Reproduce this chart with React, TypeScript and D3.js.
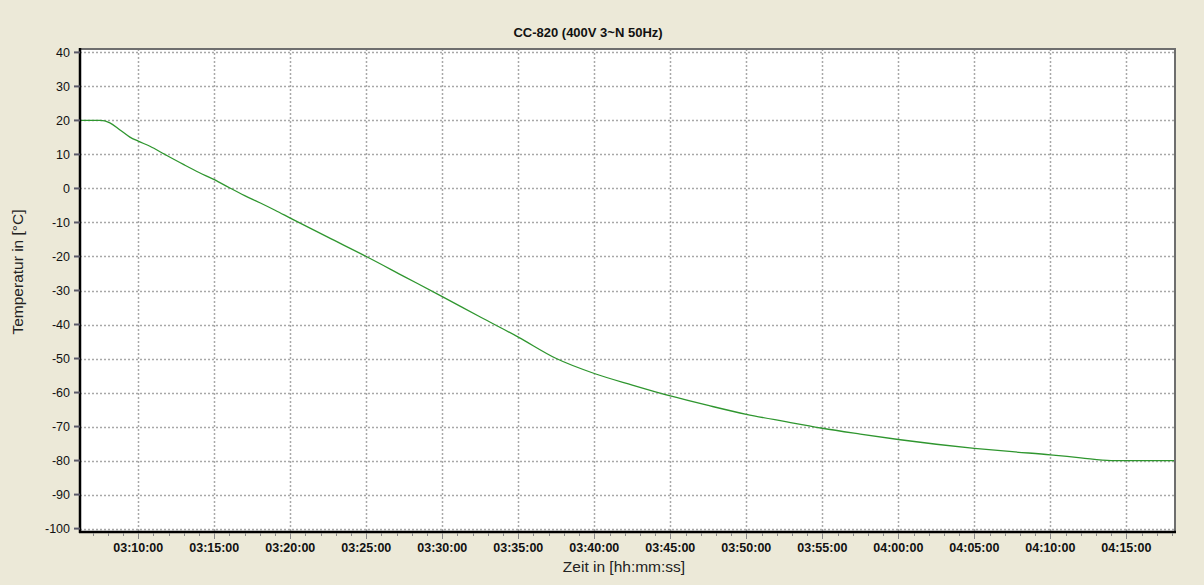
import { useEffect, useRef } from "react";
import * as d3 from "d3";

const chartTitle = "CC-820 (400V 3~N 50Hz)";
const xTitle = "Zeit in [hh:mm:ss]";
const yTitle = "Temperatur in [°C]";

// time stamps (hh:mm:ss) and temperature in °C
const times = [
	"03:06:14", "03:07:30", "03:08:08", "03:08:48", "03:09:27", "03:10:00",
	"03:10:46", "03:11:45", "03:13:00", "03:14:00", "03:15:00", "03:16:00",
	"03:17:00", "03:18:00", "03:19:00", "03:20:00", "03:22:30", "03:25:00",
	"03:27:30", "03:30:00", "03:32:30", "03:35:00", "03:37:30", "03:40:00",
	"03:42:30", "03:45:00", "03:47:30", "03:50:00", "03:52:30", "03:55:00",
	"03:57:30", "04:00:00", "04:02:30", "04:05:00", "04:07:30", "04:10:00",
	"04:12:00", "04:14:00", "04:18:12",
];
const temps = [
	20, 20, 19.3, 17.2, 15.1, 13.9,
	12.4, 10.0, 7.0, 4.7, 2.6, 0.2,
	-2.1, -4.2, -6.4, -8.7, -14.4, -20,
	-25.9, -31.8, -37.8, -43.7, -50, -54.4,
	-57.8, -61, -63.8, -66.4, -68.5, -70.5,
	-72.2, -73.8, -75.2, -76.4, -77.4, -78.3,
	-79.2, -80, -80,
];
const yTicks = [40, 30, 20, 10, 0, -10, -20, -30, -40, -50, -60, -70, -80, -90, -100];
const xStart = "03:06:14";
const xEnd = "04:18:12";

export default function App() {
	const svgRef = useRef<SVGSVGElement>(null);

	useEffect(() => {
		document.body.style.margin = "0";
		if (!svgRef.current) return;
		const svg = d3.select(svgRef.current);
		svg.selectAll("*").remove();

		const width = 1204;
		const height = 585;
		const box = { left: 80, right: 1175, top: 49, bottom: 532 };
		const font = "Arial, 'Liberation Sans', sans-serif";
		const parse = d3.timeParse("%H:%M:%S");
		const data = times.map((t, i) => ({ t: parse(t) as Date, v: temps[i] }));

		svg.attr("width", width).attr("height", height);
		svg.append("rect").attr("width", width).attr("height", height).attr("fill", "#ECE9D8");

		const x = d3
			.scaleTime()
			.domain([parse(xStart) as Date, parse(xEnd) as Date])
			.range([box.left + 1, box.right]);
		const y = d3.scaleLinear().domain([-101, 41]).range([box.bottom, box.top]);

		svg.append("rect")
			.attr("x", box.left)
			.attr("y", box.top)
			.attr("width", box.right - box.left)
			.attr("height", box.bottom - box.top)
			.attr("fill", "#ffffff");

		const majorX = x.ticks(d3.timeMinute.every(5) as d3.TimeInterval);
		const minorX = x.ticks(d3.timeMinute.every(1) as d3.TimeInterval);

		// grid
		const grid = svg.append("g")
			.attr("stroke", "#a8a8a8")
			.attr("stroke-dasharray", "2,2")
			.attr("stroke-width", 1.5);
		grid.selectAll(".hg")
			.data(yTicks)
			.enter()
			.append("line")
			.attr("x1", box.left)
			.attr("x2", box.right)
			.attr("y1", d => Math.round(y(d)) + 0.5)
			.attr("y2", d => Math.round(y(d)) + 0.5);
		grid.selectAll(".vg")
			.data(majorX)
			.enter()
			.append("line")
			.attr("x1", d => Math.round(x(d)) + 0.5)
			.attr("x2", d => Math.round(x(d)) + 0.5)
			.attr("y1", box.top)
			.attr("y2", box.bottom);

		// curve
		const line = d3.line<{ t: Date; v: number }>()
			.x(d => x(d.t))
			.y(d => y(d.v))
			.curve(d3.curveMonotoneX);
		svg.append("path")
			.datum(data)
			.attr("d", line)
			.attr("fill", "none")
			.attr("stroke", "#2f962f")
			.attr("stroke-width", 1.3);

		// frame
		svg.append("line").attr("x1", box.left).attr("x2", box.right + 1)
			.attr("y1", box.top).attr("y2", box.top)
			.attr("stroke", "#6e6e6e").attr("stroke-width", 2);
		svg.append("line").attr("x1", box.right).attr("x2", box.right)
			.attr("y1", box.top).attr("y2", box.bottom)
			.attr("stroke", "#6e6e6e").attr("stroke-width", 2);
		svg.append("line").attr("x1", box.left).attr("x2", box.left)
			.attr("y1", box.top - 1).attr("y2", box.bottom + 1)
			.attr("stroke", "#000").attr("stroke-width", 2.5);
		svg.append("line").attr("x1", box.left - 1).attr("x2", box.right + 1)
			.attr("y1", box.bottom).attr("y2", box.bottom)
			.attr("stroke", "#000").attr("stroke-width", 2.5);

		// y axis ticks + labels
		const yAxis = svg.append("g");
		yAxis.selectAll("line")
			.data(yTicks)
			.enter()
			.append("line")
			.attr("x1", box.left - 6)
			.attr("x2", box.left)
			.attr("y1", d => y(d))
			.attr("y2", d => y(d))
			.attr("stroke", "#5a5868")
			.attr("stroke-width", 2);
		yAxis.selectAll("text")
			.data(yTicks)
			.enter()
			.append("text")
			.attr("x", box.left - 10)
			.attr("y", d => y(d))
			.attr("dy", "0.36em")
			.attr("text-anchor", "end")
			.style("font-family", font)
			.style("font-size", "12.5px")
			.style("fill", "#111")
			.text(d => d);

		// x axis ticks + labels
		const xAxis = svg.append("g");
		xAxis.selectAll(".minor")
			.data(minorX)
			.enter()
			.append("line")
			.attr("x1", d => Math.round(x(d)) + 0.5)
			.attr("x2", d => Math.round(x(d)) + 0.5)
			.attr("y1", box.bottom + 1)
			.attr("y2", box.bottom + 4)
			.attr("stroke", "#8a8a8a");
		xAxis.selectAll(".major")
			.data(majorX)
			.enter()
			.append("line")
			.attr("x1", d => Math.round(x(d)) + 0.5)
			.attr("x2", d => Math.round(x(d)) + 0.5)
			.attr("y1", box.bottom + 1)
			.attr("y2", box.bottom + 7)
			.attr("stroke", "#8a8a8a");
		const fmt = d3.timeFormat("%H:%M:%S");
		xAxis.selectAll("text")
			.data(majorX)
			.enter()
			.append("text")
			.attr("x", d => x(d))
			.attr("y", box.bottom + 20)
			.attr("text-anchor", "middle")
			.style("font-family", font)
			.style("font-size", "12.5px")
			.style("font-weight", "bold")
			.style("fill", "#111")
			.text(d => fmt(d));

		// titles
		svg.append("text")
			.attr("x", 588)
			.attr("y", 37)
			.attr("text-anchor", "middle")
			.style("font-family", font)
			.style("font-size", "13px")
			.style("font-weight", "bold")
			.style("fill", "#111")
			.text(chartTitle);
		svg.append("text")
			.attr("x", 624)
			.attr("y", 572)
			.attr("text-anchor", "middle")
			.style("font-family", font)
			.style("font-size", "15.5px")
			.style("fill", "#222")
			.text(xTitle);
		svg.append("text")
			.attr("transform", "translate(23,272) rotate(-90)")
			.attr("text-anchor", "middle")
			.style("font-family", font)
			.style("font-size", "15.5px")
			.style("fill", "#222")
			.text(yTitle);
	}, []);

	return <svg ref={svgRef} style={{ display: "block" }} />;
}
